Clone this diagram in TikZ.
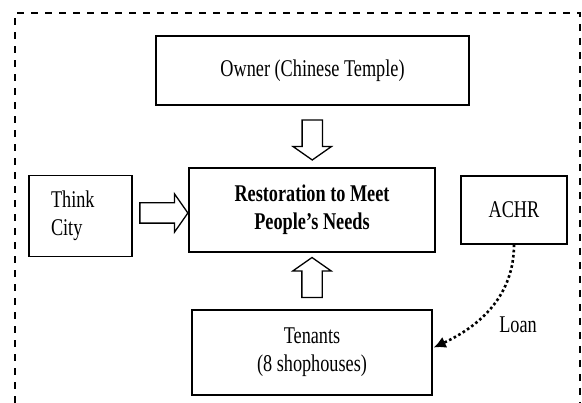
\documentclass[tikz,border=0pt]{standalone}
\usepackage{fontspec}
\setmainfont{Liberation Serif}[FakeStretch=0.76]
\usepackage{tikz}
\usetikzlibrary{shapes,arrows,arrows.meta,calc}

\tikzset{
  box/.style={draw, line width=1.5pt, align=center, inner sep=0pt},
  thinbox/.style={draw, line width=1.1pt, inner sep=0pt},
  bigarrow/.style={draw, line width=1.3pt, single arrow, single arrow head extend=9pt,
    single arrow tip angle=110, minimum height=#1, inner xsep=0pt, inner ysep=9.5pt},
}

\begin{document}
\begin{tikzpicture}[x=1pt, y=-1pt, font=\fontsize{24}{28}\selectfont]
\useasboundingbox (0,0) rectangle (582,403);

\draw [line width=1.3pt, dash pattern=on 7pt off 7pt] (15,403) -- (15,13) -- (580,13) -- (580,403);

\node [box, minimum width=313pt, minimum height=69pt] (owner) at (312.5,70.5) {Owner (Chinese Temple)};
\node [box, line width=1.8pt, minimum width=246pt, minimum height=84pt,
  font=\fontsize{24}{28}\selectfont\bfseries] (restore) at (312,210) {Restoration to Meet\\People’s Needs};
\node [thinbox, align=left, text width=59pt, inner xsep=22pt, minimum height=81pt] (think) at (80.5,216) {Think\\City};
\node [thinbox, minimum width=106pt, minimum height=68pt] (achr) at (514,210) {ACHR};
\node [box, minimum width=240pt, minimum height=85pt] (tenants) at (312,352.5) {Tenants\\(8 shophouses)};

\node [bigarrow=40pt, rotate=-90] (down) at ($(owner.south)!0.5!(restore.north)$) {};
\node [bigarrow=40pt, rotate=90] (up) at ($(tenants.north)!0.5!(restore.south)$) {};
\node [bigarrow=48pt] (right) at ($(think.east)!0.5!(restore.west)$) {};

\draw [line width=2.6pt, dash pattern=on 2.6pt off 2.6pt, -{Latex[length=12pt,width=12pt]}]
  (achr.south) to[out=-90, in=25] ($(tenants.east)+(1,-5)$);
\node (loan) at (518,325) {Loan};

\end{tikzpicture}
\end{document}
